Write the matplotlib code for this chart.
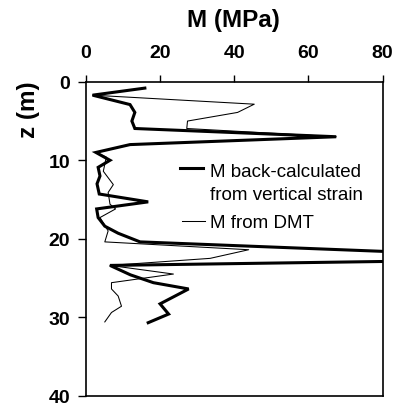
import matplotlib
matplotlib.use("Agg")
import matplotlib.pyplot as plt

# back-calculated from vertical strain (thick)
z_back = [0.8, 1.7, 2.9, 3.9, 5.0, 5.95, 7.0, 8.0, 9.0, 10.0, 10.9, 12.0, 13.0, 14.3,
          15.3, 16.2, 17.3, 18.4, 19.3, 20.4, 22.55, 23.4, 24.6, 25.6, 26.4, 28.3, 29.6, 30.7]
m_back = [15.9, 1.8, 11.9, 13.2, 12.4, 13.2, 67.5, 11.9, 2.7, 6.5, 3.3, 3.8, 3.0, 3.6,
          16.8, 2.9, 3.3, 5.1, 8.7, 14.6, 131, 6.5, 12.0, 18.2, 27.7, 20.0, 22.3, 16.8]

# from DMT (thin)
z_dmt = [1.7, 2.85, 3.9, 5.0, 5.95, 7.0, 8.0, 9.0, 9.6, 11.4, 13.1, 14.1, 15.6, 16.2,
         17.3, 19.0, 20.4, 21.4, 22.5, 23.4, 24.5, 25.6, 26.4, 27.3, 28.6, 29.4, 30.6]
m_dmt = [1.8, 45.4, 40.9, 27.4, 27.2, 67.5, 11.9, 2.7, 5.5, 4.7, 7.4, 6.0, 6.5, 8.0,
         3.8, 6.0, 5.1, 43.9, 33.5, 6.5, 23.6, 6.9, 6.9, 8.7, 9.6, 6.9, 5.1]

x_ticks = [0, 20, 40, 60, 80]
y_ticks = [0, 10, 20, 30, 40]

plt.rcParams["font.family"] = ["Liberation Sans", "DejaVu Sans"]

W, H = 394, 406
fig = plt.figure(figsize=(W / 100, H / 100), dpi=100)
ax = fig.add_axes([0.218, 0.023, 0.753, 0.773])

ax.plot(m_back, z_back, color="black", lw=2.2, solid_joinstyle="miter")
ax.plot(m_dmt, z_dmt, color="black", lw=0.75)

ax.set_xlim(0, 80); ax.set_ylim(40, 0)
ax.set_xticks(x_ticks); ax.set_yticks(y_ticks)
ax.xaxis.tick_top()
ax.tick_params(axis="x", direction="out", length=5, width=1, pad=10, labelsize=14)
ax.tick_params(axis="y", direction="out", length=6, width=1, pad=5.5, labelsize=14)
for lab in ax.get_xticklabels() + ax.get_yticklabels():
    lab.set_fontweight("bold")
for s in ax.spines.values():
    s.set_linewidth(1.2)

fig.text(28 / W, 1 - 110 / H, "z (m)", fontsize=17.5, fontweight="bold",
         rotation=90, ha="center", va="center")
fig.text(233 / W, 1 - 27.5 / H, "M (MPa)", fontsize=17.5, fontweight="bold",
         ha="center", va="baseline")

# legend, drawn by hand so the thick handle sits on the first text line
def px(x, y):
    return x / W, 1 - y / H

fig.add_artist(plt.Line2D([180 / W, 203 / W], [1 - 168.5 / H] * 2, color="black", lw=2.2))
fig.add_artist(plt.Line2D([182 / W, 205 / W], [1 - 221.5 / H] * 2, color="black", lw=0.75))
fig.text(*px(210, 176.7), "M back-calculated", fontsize=13.5, va="baseline")
fig.text(*px(210, 200.2), "from vertical strain", fontsize=13.5, va="baseline")
fig.text(*px(210, 228.3), "M from DMT", fontsize=13.5, va="baseline")

fig.savefig("out.png", dpi=100)
